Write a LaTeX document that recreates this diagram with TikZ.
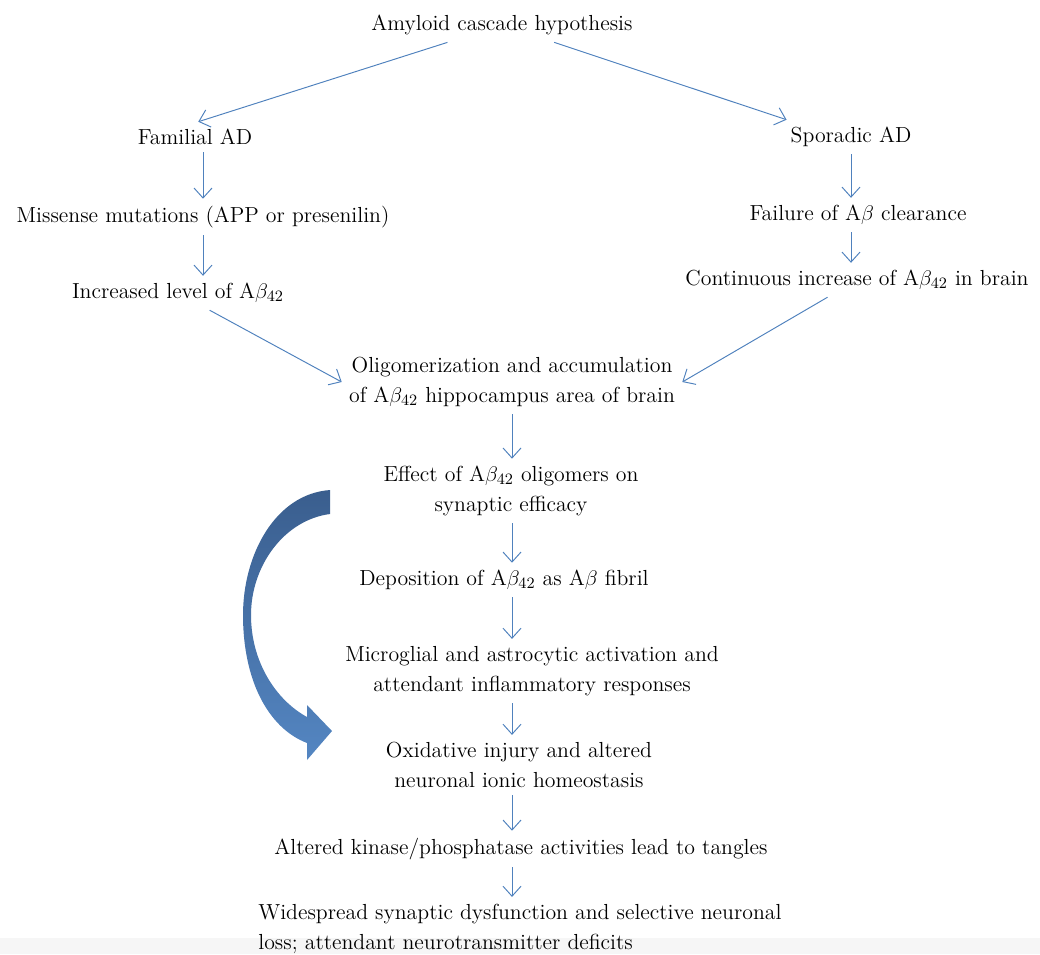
\documentclass[tikz,border=0pt]{standalone}
\usetikzlibrary{arrows.meta, positioning}
\definecolor{flowblue}{RGB}{79,129,189}
\definecolor{bendtop}{RGB}{58,94,142}
\definecolor{bendbot}{RGB}{84,134,194}

\begin{document}
\begin{tikzpicture}[x=0.02cm, y=-0.02cm, step text/.style={align=center, font=\fontsize{12.4}{17}\selectfont, inner sep=4pt}, arrow/.style={-{Straight Barb[length=2mm, width=3.6mm]}, flowblue, line width=0.55pt}]

\useasboundingbox (0,0) rectangle (1040,954);
\fill[gray!7] (0,938) rectangle (1040,954);

% two routes to the same cascade
\node[step text] (top) at (502,25) {Amyloid cascade hypothesis};
\node[step text] (fam) at (195,137) {Familial AD};
\node[step text] (spo) at (851,137) {Sporadic AD};
\node[step text] (mis) at (203,217) {Missense mutations (APP or presenilin)};
\node[step text] (fai) at (858,215) {Failure of A$\beta$ clearance};
\node[step text] (inc) at (178,293) {Increased level of A$\beta_{42}$};
\node[step text] (con) at (857,280) {Continuous increase of A$\beta_{42}$ in brain};

% main chain
\node[step text] (oli) at (512,382) {Oligomerization and accumulation\\of A$\beta_{42}$ hippocampus area of brain};
\node[step text] (eff) at (511,491) {Effect of A$\beta_{42}$ oligomers on\\synaptic efficacy};
\node[step text] (dep) at (504,580) {Deposition of A$\beta_{42}$ as A$\beta$ fibril};
\node[step text] (mic) at (532,671) {Microglial and astrocytic activation and\\attendant inflammatory responses};
\node[step text] (oxi) at (519,765) {Oxidative injury and altered\\neuronal ionic homeostasis};
\node[step text] (alt) at (521,849) {Altered kinase/phosphatase activities lead to tangles};
\node[step text, align=left, anchor=west] (wid) at (251,929) {Widespread synaptic dysfunction and selective neuronal\\loss; attendant neurotransmitter deficits};

\draw[arrow] (top) -- (fam.78);
\draw[arrow] (top) -- (spo.165);
\draw[arrow] (mis.north |- fam.south) -- (mis.north);
\draw[arrow] (mis.south) -- (mis.south |- inc.north);
\draw[arrow] (spo.south) -- (spo.south |- fai.north);
\draw[arrow] (spo.south |- fai.south) -- (spo.south |- con.north);
\draw[arrow] (inc) -- (oli.west);
\draw[arrow] (con) -- (oli.east);

\draw[arrow] (oli.south) -- (oli.south |- eff.north);
\draw[arrow] (oli.south |- eff.south) -- (oli.south |- dep.north);
\draw[arrow] (oli.south |- dep.south) -- (oli.south |- mic.north);
\draw[arrow] (oli.south |- mic.south) -- (oli.south |- oxi.north);
\draw[arrow] (oli.south |- oxi.south) -- (oli.south |- alt.north);
\draw[arrow] (oli.south |- alt.south) -- (oli.south |- wid.north);

% bent block arrow on the left
\shade[top color=bendtop, bottom color=bendbot]
  (330,490) .. controls (275,494) and (243,555) .. (243,615)
  .. controls (243,680) and (268,728) .. (307,743)
  -- (307,760) -- (332,731) -- (307,705) -- (307,717)
  .. controls (276,700) and (251,662) .. (251,615)
  .. controls (251,566) and (284,520) .. (330,514) -- cycle;

\end{tikzpicture}
\end{document}
